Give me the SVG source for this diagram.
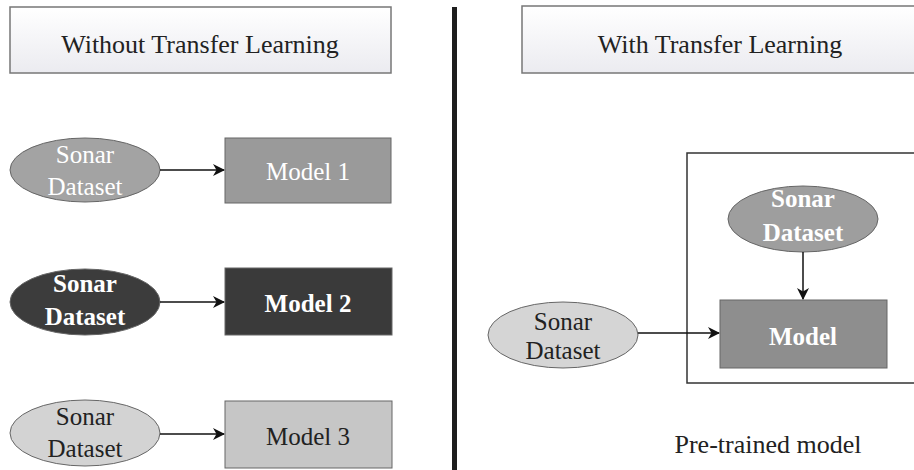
<svg xmlns="http://www.w3.org/2000/svg" width="914" height="470" viewBox="0 0 914 470" font-family="'Liberation Serif','DejaVu Serif',serif">
<defs>
<marker id="ah" markerWidth="12" markerHeight="12" refX="11" refY="6" orient="auto" markerUnits="userSpaceOnUse">
<path d="M0,0 L12,6 L0,12 L3.5,6 Z" fill="#111"/>
</marker>
<linearGradient id="tg" x1="0" y1="0" x2="0" y2="1">
<stop offset="0" stop-color="#ffffff"/>
<stop offset="1" stop-color="#ebebf0"/>
</linearGradient>
</defs>
<style>
text{font-family:"Liberation Serif","DejaVu Serif",serif;text-anchor:middle}
.title{fill:url(#tg);stroke:#777;stroke-width:1.5}
.tt{font-size:26px;fill:#222}
.w{fill:#fff;font-size:25px}
.wb{fill:#fff;font-size:25px;font-weight:bold}
.d{fill:#222;font-size:25px}
.edge{stroke:#111;stroke-width:1.5;fill:none;marker-end:url(#ah)}
.nb{stroke:#666;stroke-width:1}
</style>
<rect width="914" height="470" fill="#fff"/>
<g id="title-left"><rect class="title" x="10" y="7" width="381" height="66"/><text class="tt" x="200" y="53">Without Transfer Learning</text></g>
<g id="title-right"><rect class="title" x="522" y="6" width="400" height="67"/><text class="tt" x="720" y="53">With Transfer Learning</text></g>
<g id="divider"><rect x="452" y="7" width="5" height="463" fill="#1e1e1e"/></g>
<g id="pretrained-box"><rect x="687" y="153" width="240" height="230" fill="none" stroke="#333" stroke-width="1.5"/><text class="d" x="768" y="453" style="font-size:26px">Pre-trained model</text></g>
<g id="ds1"><ellipse class="nb" cx="85" cy="170" rx="75" ry="32" fill="#a3a3a3"/><text class="w" x="85" y="163">Sonar</text><text class="w" x="85" y="195">Dataset</text></g>
<g id="m1"><rect class="nb" x="225" y="138" width="166" height="65" fill="#9a9a9a"/><text class="w" x="308" y="180">Model 1</text></g>
<g id="ds2"><ellipse class="nb" cx="85" cy="302" rx="75" ry="33" fill="#3c3c3c"/><text class="wb" x="85" y="292">Sonar</text><text class="wb" x="85" y="325">Dataset</text></g>
<g id="m2"><rect class="nb" x="225" y="268" width="167" height="67" fill="#3a3a3a"/><text class="wb" x="308" y="312">Model 2</text></g>
<g id="ds3"><ellipse class="nb" cx="85" cy="433" rx="75" ry="33" fill="#d3d3d3"/><text class="d" x="85" y="425">Sonar</text><text class="d" x="85" y="457">Dataset</text></g>
<g id="m3"><rect class="nb" x="225" y="401" width="167" height="67" fill="#c6c6c6"/><text class="d" x="308" y="445">Model 3</text></g>
<g id="ds-top"><ellipse class="nb" cx="803" cy="219" rx="75" ry="33" fill="#9e9e9e"/><text class="wb" x="803" y="207">Sonar</text><text class="wb" x="803" y="241">Dataset</text></g>
<g id="model"><rect class="nb" x="720" y="300" width="167" height="68" fill="#8e8e8e"/><text class="wb" x="803" y="345">Model</text></g>
<g id="ds-left"><ellipse class="nb" cx="563" cy="335" rx="75" ry="33" fill="#d5d5d5"/><text class="d" x="563" y="330">Sonar</text><text class="d" x="563" y="359">Dataset</text></g>
<g id="connectors">
<line class="edge" x1="160" y1="170" x2="224" y2="170"/>
<line class="edge" x1="160" y1="302" x2="224" y2="302"/>
<line class="edge" x1="160" y1="434" x2="224" y2="434"/>
<line class="edge" x1="803" y1="252" x2="803" y2="299"/>
<line class="edge" x1="638" y1="333" x2="719" y2="333"/>
</g>
</svg>
